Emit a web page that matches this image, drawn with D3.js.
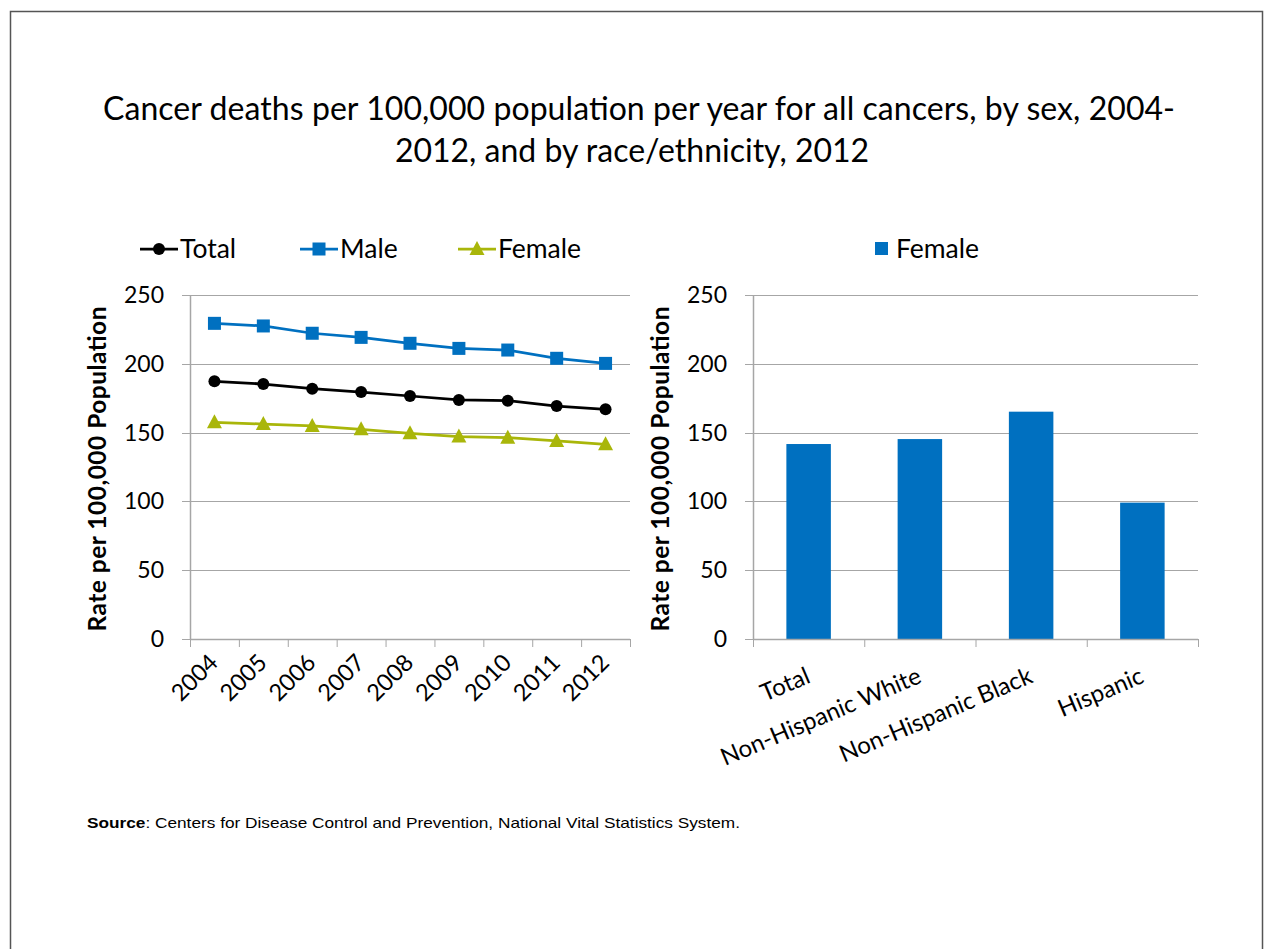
<!DOCTYPE html>
<html><head><meta charset="utf-8">
<script src="https://cdn.jsdelivr.net/npm/d3@7"></script>
<style>body{margin:0;background:#fff}svg{display:block}text{font-family:Lato,"Open Sans",sans-serif}</style>
</head><body>
<script>
const years = ["2004","2005","2006","2007","2008","2009","2010","2011","2012"];
const totalRates = [187.3,185.3,181.9,179.5,176.6,173.7,173.2,169.3,166.9];
const maleRates = [229.4,227.5,222.2,219.2,214.9,211.2,210.0,204.0,200.3];
const femaleRates = [157.5,156.2,154.8,152.4,149.5,147.1,146.3,143.9,141.5];
const groups = ["Total","Non-Hispanic White","Non-Hispanic Black","Hispanic"];
const groupRates = [141.7,145.3,165.2,99.1];
const yTicks = [0,50,100,150,200,250];

const W=1264,H=949;
const svg=d3.select("body").append("svg").attr("width",W).attr("height",H);
svg.append("rect").attr("x",10.5).attr("y",11.5).attr("width",1252).attr("height",960).attr("fill","none").attr("stroke","#555").attr("stroke-width",1.5);

const title=svg.append("text").attr("text-anchor","middle").attr("font-size",32).attr("fill","#000");
title.append("tspan").attr("x",639).attr("y",120).attr("textLength",1072).text("Cancer deaths per 100,000 population per year for all cancers, by sex, 2004-");
title.append("tspan").attr("x",632).attr("y",162).text("2012, and by race/ethnicity, 2012");

const grid="#a6a6a6";
function yAxisPanel(x0,x1,y,labelX,titleX){
  const g=svg.append("g");
  g.selectAll("line.grid").data(yTicks.filter(d=>d>0)).join("line")
    .attr("x1",x0).attr("x2",x1).attr("y1",d=>Math.round(y(d))+0.5).attr("y2",d=>Math.round(y(d))+0.5)
    .attr("stroke",grid).attr("stroke-width",1);
  g.append("line").attr("x1",x0+0.5).attr("x2",x0+0.5).attr("y1",y(250)).attr("y2",y(0)).attr("stroke",grid).attr("stroke-width",1.5);
  g.selectAll("line.tk").data(yTicks).join("line")
    .attr("x1",x0-8).attr("x2",x0).attr("y1",d=>Math.round(y(d))+0.5).attr("y2",d=>Math.round(y(d))+0.5).attr("stroke",grid);
  g.selectAll("text.tl").data(yTicks).join("text").attr("x",labelX).attr("y",d=>y(d)+8).attr("text-anchor","end")
    .attr("font-size",23).text(d=>d);
  g.append("text").attr("transform",`translate(${titleX},${(y(0)+y(250))/2+2}) rotate(-90)`).attr("text-anchor","middle")
    .attr("font-size",24.5).attr("font-weight","bold").attr("textLength",325).text("Rate per 100,000 Population");
}

// Left chart
const lx0=190,lx1=630;
const yL=d3.scaleLinear().domain([0,250]).range([639,295]);
const xL=d3.scaleBand().domain(years).range([lx0,lx1]);
yAxisPanel(lx0,lx1,yL,164,106);
svg.append("line").attr("x1",lx0).attr("x2",lx1).attr("y1",639.5).attr("y2",639.5).attr("stroke",grid).attr("stroke-width",1.5);
const lb=years.map((d,i)=>xL(d)).concat([lx1]);
svg.selectAll("line.xtL").data(lb).join("line").attr("x1",d=>d+0.5).attr("x2",d=>d+0.5).attr("y1",639).attr("y2",647).attr("stroke",grid);
svg.selectAll("text.xlL").data(years).join("text")
  .attr("transform",d=>`translate(${xL(d)+xL.bandwidth()/2+5},${664}) rotate(-45)`)
  .attr("text-anchor","end").attr("font-size",23.5).text(d=>d);

const cx=d=>xL(d)+xL.bandwidth()/2;
const line=d3.line().x((d,i)=>cx(years[i])).y(d=>yL(d));
const series=[
  {name:"Total",vals:totalRates,color:"#000000",shape:"circle"},
  {name:"Male",vals:maleRates,color:"#0070C0",shape:"square"},
  {name:"Female",vals:femaleRates,color:"#A9B60A",shape:"triangle"}
];
function marker(g,shape,color,x,y){
  if(shape==="circle") g.append("circle").attr("cx",x).attr("cy",y).attr("r",6).attr("fill",color);
  else if(shape==="square") g.append("rect").attr("x",x-6.5).attr("y",y-6.5).attr("width",13).attr("height",13).attr("fill",color);
  else g.append("path").attr("d",`M${x},${y-8}L${x+7.5},${y+6}L${x-7.5},${y+6}Z`).attr("fill",color);
}
series.forEach(s=>{
  svg.append("path").attr("d",line(s.vals)).attr("fill","none").attr("stroke",s.color).attr("stroke-width",2.75);
  const g=svg.append("g");
  s.vals.forEach((v,i)=>marker(g,s.shape,s.color,cx(years[i]),yL(v)));
});
// Legend left
const legX=[140,300,458];
series.forEach((s,i)=>{
  const g=svg.append("g");
  g.append("line").attr("x1",legX[i]).attr("x2",legX[i]+38).attr("y1",249).attr("y2",249).attr("stroke",s.color).attr("stroke-width",2.75);
  marker(g,s.shape,s.color,legX[i]+19,249);
  g.append("text").attr("x",legX[i]+40).attr("y",258).attr("font-size",26.5).text(s.name);
});

// Right chart
const rx0=753,rx1=1198;
const yR=d3.scaleLinear().domain([0,250]).range([639,295]);
const xR=d3.scaleBand().domain(groups).range([rx0,rx1]).paddingInner(0.6).paddingOuter(0.3);
const xRb=d3.scaleBand().domain(groups).range([rx0,rx1]);
yAxisPanel(rx0,rx1,yR,727,669);
svg.selectAll("rect.bar").data(groups).join("rect")
  .attr("x",d=>xR(d)).attr("width",xR.bandwidth())
  .attr("y",(d,i)=>yR(groupRates[i])).attr("height",(d,i)=>yR(0)-yR(groupRates[i])).attr("fill","#0070C0");
svg.append("line").attr("x1",rx0).attr("x2",rx1).attr("y1",639.5).attr("y2",639.5).attr("stroke",grid).attr("stroke-width",1.5);
const rb=groups.map(d=>xRb(d)).concat([rx1]);
svg.selectAll("line.xtR").data(rb).join("line").attr("x1",d=>d+0.5).attr("x2",d=>d+0.5).attr("y1",639).attr("y2",647).attr("stroke",grid);
svg.selectAll("text.xlR").data(groups).join("text")
  .attr("transform",d=>`translate(${xRb(d)+xRb.bandwidth()/2+3},${682}) rotate(-23)`)
  .attr("text-anchor","end").attr("font-size",24).text(d=>d);
// Legend right
svg.append("rect").attr("x",875).attr("y",242).attr("width",13).attr("height",13).attr("fill","#0070C0");
svg.append("text").attr("x",896).attr("y",258).attr("font-size",26.5).text("Female");

// Source
const src=svg.append("text").attr("x",87).attr("y",828).attr("font-size",15).attr("textLength",653).attr("lengthAdjust","spacingAndGlyphs").style("font-family","'Liberation Sans',Arial,sans-serif");
src.append("tspan").attr("font-weight","bold").text("Source");
src.append("tspan").text(": Centers for Disease Control and Prevention, National Vital Statistics System.");
</script>
</body></html>
